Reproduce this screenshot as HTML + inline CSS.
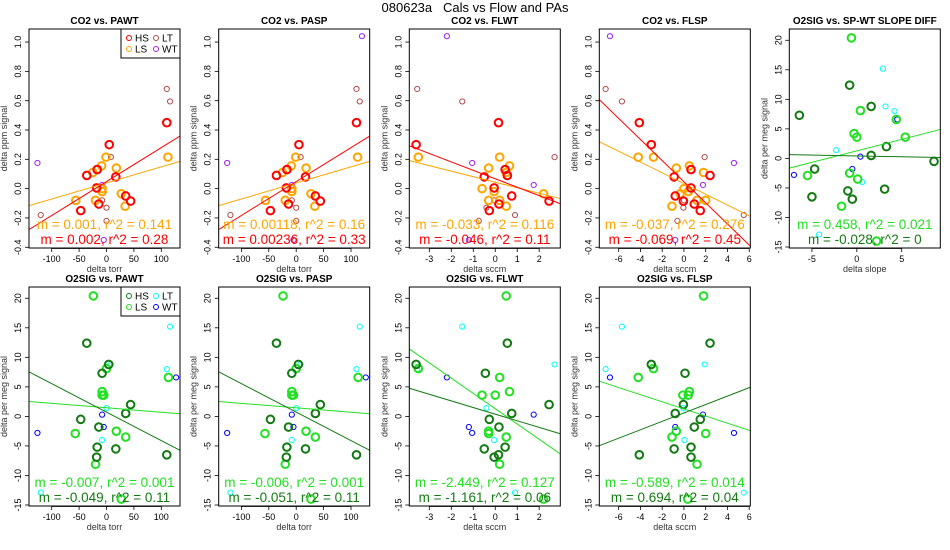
<!DOCTYPE html>
<html><head><meta charset="utf-8">
<style>
html,body{margin:0;padding:0;background:#fff;}
svg{display:block;font-family:"Liberation Sans",sans-serif;}
</style></head>
<body>
<svg id="chart" width="950" height="550" viewBox="0 0 950 550" xmlns="http://www.w3.org/2000/svg">
<rect width="950" height="550" fill="#fff"/>
<text x="475" y="12" text-anchor="middle" font-size="13" style="white-space:pre">080623a   Cals vs Flow and PAs</text>
</svg>
<script>
// ---------- CO2 data ----------
const co2HS_y   = [0.45,0.30,0.09,0.13,0.08,0.005,-0.05,-0.085,-0.105,-0.15];
const co2HS_torr= [110,5,-36,-17,17,-18,35,44,-14,-47];
const co2HS_flwt= [0.15,-3.6,0.55,0.45,-0.5,-0.05,0.75,2.45,0.17,-0.27];
const co2HS_flsp= [-4.1,-3.0,2.4,0.65,-0.9,0.65,-0.8,-0.05,0.95,1.5];
const co2LS_y   = [0.215,0.215,0.155,0.14,0.11,0.0,-0.02,-0.035,-0.08,-0.08,-0.12];
const co2LS_torr= [-1,112,-9,18,-25,-8,-8,27,-56,-20,34];
const co2LS_flwt= [-3.5,0.2,0.65,-0.3,0.5,-0.6,-0.05,2.2,-0.3,0.2,0.5];
const co2LS_flsp= [-4.2,-2.8,0.5,-0.7,1.8,0,0.4,-0.35,1.2,2.0,-1.1];
const co2LT_y   = [0.68,0.595,0.215,-0.08,-0.13,-0.18,-0.22];
const co2LT_torr= [110,116,8,-8,0,-120,0];
const co2LT_flwt= [-3.55,-1.5,2.7,-0.05,-0.4,0.9,-0.75];
const co2LT_flsp= [-7.2,-5.7,1.9,0,-0.05,5.5,-0.6];
const co2WT_y   = [1.04,0.175,0.025,-0.35];
const co2WT_torr= [150,-126,-8,-5];
const co2WT_pasp= [120,-126,-8,-5];
const co2WT_flwt= [-2.2,-1.05,1.75,-1.2];
const co2WT_flsp= [-6.8,4.6,1.75,-0.8];
// ---------- O2 data ----------
const o2HS_y    = [12.4,8.8,7.3,2.0,0.5,-0.5,-1.8,-5.2,-5.5,-6.5,-6.9];
const o2HS_torr = [-36,4,-8,44,35,-47,-14,-17,17,110,-18];
const o2HS_flwt = [0.55,-3.6,-0.45,2.45,0.75,-0.27,0.17,0.45,-0.5,0.15,-0.05];
const o2HS_flsp = [2.4,-3.0,0.1,-0.05,-0.8,1.5,0.95,0.65,-0.9,-4.1,0.65];
const o2HS_slope= [-0.8,1.6,-6.4,3.3,1.6,8.6,-4.7,3.1,-1.0,-5.0,-0.5];
const o2LS_y    = [20.4,8.1,6.6,4.2,3.6,3.6,-2.5,-2.9,-3.5,-8.1,-14];
const o2LS_torr = [-24,0,113,-8,-8,-5,18,-57,35,-20,27];
const o2LS_flwt = [0.5,-3.5,0.2,0.65,-0.6,0.0,-0.3,-0.3,0.5,0.2,2.2];
const o2LS_flsp = [1.8,-2.8,-4.2,0.5,0.4,-0.1,-0.7,2.0,-1.1,1.2,0.35];
const o2LS_slope= [-0.6,0.4,4.4,-0.3,0,5.4,-0.8,-5.5,0.1,-1.7,2.2];
const o2LT_y    = [15.2,8.8,8.0,1.4,-4.0,-12.9];
const o2LT_torr = [116,8,110,0,-8,-120];
const o2LT_flwt = [-1.5,2.7,-3.55,-0.4,-0.05,0.9];
const o2LT_flsp = [-5.7,1.9,-7.2,-0.05,0.05,5.5];
const o2LT_slope= [2.9,3.2,4.2,-2.3,0.6,-4.2];
const o2WT_y    = [6.6,0.3,-1.8,-2.8];
const o2WT_torr = [127,-8,-5,-126];
const o2WT_flwt = [-2.2,1.75,-1.2,-1.05];
const o2WT_flsp = [-6.8,1.75,-0.8,4.6];
const o2WT_slope= [4.5,0.4,-0.5,-7];
// ---------- tick labels ----------
const torrTicks = [-100,-50,0,50,100];
const flwtTicks = [-3,-2,-1,0,1,2];
const flspTicks = [-6,-4,-2,0,2,4,6];
const slopeTicks= [-5,0,5];
const co2Ticks  = [-0.4,-0.2,0.0,0.2,0.4,0.6,0.8,1.0];
const co2TickLabels = ["-0.4","-0.2","0.0","0.2","0.4","0.6","0.8","1.0"];
const o2Ticks   = [-15,-10,-5,0,5,10,15,20];
// ---------- printed stats ----------
const statsLS = ["m = 0.001, r^2 = 0.141","m = 0.00118, r^2 = 0.16","m = -0.033, r^2 = 0.116","m = -0.037, r^2 = 0.276","m = 0.458, r^2 = 0.021","m = -0.007, r^2 = 0.001","m = -0.006, r^2 = 0.001","m = -2.449, r^2 = 0.127","m = -0.589, r^2 = 0.014"];
const statsHS = ["m = 0.002, r^2 = 0.28","m = 0.00236, r^2 = 0.33","m = -0.046, r^2 = 0.11","m = -0.069, r^2 = 0.45","m = -0.028, r^2 = 0","m = -0.049, r^2 = 0.11","m = -0.051, r^2 = 0.11","m = -1.161, r^2 = 0.06","m = 0.694, r^2 = 0.04"];

const NS="http://www.w3.org/2000/svg";
const svg=document.getElementById('chart');
function mk(tag,attrs,parent){const e=document.createElementNS(NS,tag);for(const k in attrs)e.setAttribute(k,attrs[k]);(parent||svg).appendChild(e);return e;}

const C={HS:'#ff0000',LS:'#ffa500',LT:'#b04a4a',WT:'#a020f0'};
const O={HS:'#137a13',LS:'#22e022',LT:'#00ffff',WT:'#0000ff'};
const CO2DOM=[-0.405,1.089], O2DOM=[-15.17,21.91];
const TORR=[-141.4,134.1], FLWT=[-3.91,2.96], FLSP=[-7.78,6.10], SLOPE=[-7.52,9.30];

function fit(xs,ys){const n=xs.length;let mx=0,my=0;for(let i=0;i<n;i++){mx+=xs[i];my+=ys[i];}mx/=n;my/=n;let sxy=0,sxx=0;for(let i=0;i<n;i++){sxy+=(xs[i]-mx)*(ys[i]-my);sxx+=(xs[i]-mx)**2;}const m=sxy/sxx;return [m,my-m*mx];}

let pid=0;
function panel(p){
  pid++;
  const L=p.left,T=p.top,W=151,H=219;
  const sx=v=>L+(v-p.xd[0])/(p.xd[1]-p.xd[0])*W;
  const sy=v=>T+H-(v-p.yd[0])/(p.yd[1]-p.yd[0])*H;
  const g=mk('g',{});
  
  
  const cp=mk('clipPath',{id:'cp'+pid},g);mk('rect',{x:L,y:T,width:W,height:H},cp);
  const t=mk('text',{x:L+W/2,y:T-5,'text-anchor':'middle','font-size':10,'font-weight':'bold'},g);t.textContent=p.title;
  
  
  p.xt.forEach(v=>{const x=sx(v);mk('line',{x1:x,y1:T+H,x2:x,y2:T+H+4,stroke:'#000','stroke-width':0.8},g);
    const tl=mk('text',{x:x,y:T+H+14,'text-anchor':'middle','font-size':9},g);tl.textContent=v;
    
    });
  mk('line',{x1:sx(p.xt[0]),y1:T+H+0.5,x2:sx(p.xt[p.xt.length-1]),y2:T+H+0.5,stroke:'#000','stroke-width':0.8},g);
  p.yt.forEach((v,i)=>{const y=sy(v);mk('line',{x1:L-4,y1:y,x2:L,y2:y,stroke:'#000','stroke-width':0.8},g);
    const tl=mk('text',{x:L-8,y:y,'text-anchor':'middle','font-size':9,transform:`rotate(-90 ${L-8} ${y})`},g);tl.textContent=p.ytl?p.ytl[i]:v;
    
    });
  const xl=mk('text',{x:L+W/2,y:T+H+24,'text-anchor':'middle','font-size':9,fill:'#333'},g);xl.textContent=p.xl;
  
  
  const yx=L-22,yy=T+H/2;
  const yl=mk('text',{x:yx,y:yy,'text-anchor':'middle','font-size':9,fill:'#333',transform:`rotate(-90 ${yx} ${yy})`},g);yl.textContent=p.yl;
  
  
  const cg=mk('g',{'clip-path':`url(#cp${pid})`},g);
  ['LT','WT','LS','HS'].forEach(k=>{const s=p.s[k];if(!s)return;const thick=(k==='HS'||k==='LS');
    s.x.forEach((xv,i)=>{const c=mk('circle',{cx:sx(xv),cy:sy(s.y[i]),r:thick?3.8:2.6,fill:'none',stroke:p.col[k],'stroke-width':thick?2:1},cg);
      
      });});
  ['LS','HS'].forEach(k=>{const s=p.s[k];const [m,b]=fit(s.x,s.y);
    const ln=mk('line',{x1:sx(p.xd[0]),y1:sy(m*p.xd[0]+b),x2:sx(p.xd[1]),y2:sy(m*p.xd[1]+b),stroke:p.col[k],'stroke-width':1},cg);
    
    });
  const s1=mk('text',{x:L+W/2,y:T+H-19,'text-anchor':'middle','font-size':13.5,fill:p.col.LS},g);s1.textContent=p.st[0];
  
  
  const s2=mk('text',{x:L+W/2,y:T+H-4,'text-anchor':'middle','font-size':13.5,fill:p.col.HS},g);s2.textContent=p.st[1];
  
  
  mk('rect',{x:L,y:T,width:W,height:H,fill:'none',stroke:'#000','stroke-width':1},g);
  if(p.legend){
    const lg=mk('g',{},g);
    
    
    mk('rect',{x:L+W-59,y:T,width:59,height:29,fill:'#fff',stroke:'#000','stroke-width':1},lg);
    [['HS',0,0],['LT',1,0],['LS',0,1],['WT',1,1]].forEach(([k,c,r])=>{
      const cx=L+W-51+c*27, cy=T+9+r*11;
      mk('circle',{cx:cx,cy:cy,r:2.5,fill:'none',stroke:p.col[k],'stroke-width':1},lg);
      const lt=mk('text',{x:cx+6,y:cy+3.5,'font-size':10},lg);lt.textContent=k;
      
      });
  }
}
const cols=[29,218.7,409.3,599.3,789.3];
const co2=(hx,lx,tx,wx)=>({HS:{x:hx,y:co2HS_y},LS:{x:lx,y:co2LS_y},LT:{x:tx,y:co2LT_y},WT:{x:wx,y:co2WT_y}});
const o2=(hx,lx,tx,wx)=>({HS:{x:hx,y:o2HS_y},LS:{x:lx,y:o2LS_y},LT:{x:tx,y:o2LT_y},WT:{x:wx,y:o2WT_y}});
const co2yl='delta ppm signal', o2yl='delta per meg signal';
panel({name:'panel-co2-pawt',left:cols[0],top:29,title:'CO2 vs. PAWT',xd:TORR,yd:CO2DOM,xt:torrTicks,yt:co2Ticks,ytl:co2TickLabels,xl:'delta torr',yl:co2yl,col:C,st:[statsLS[0],statsHS[0]],legend:true,s:co2(co2HS_torr,co2LS_torr,co2LT_torr,co2WT_torr)});
panel({name:'panel-co2-pasp',left:cols[1],top:29,title:'CO2 vs. PASP',xd:TORR,yd:CO2DOM,xt:torrTicks,yt:co2Ticks,ytl:co2TickLabels,xl:'delta torr',yl:co2yl,col:C,st:[statsLS[1],statsHS[1]],s:co2(co2HS_torr,co2LS_torr,co2LT_torr,co2WT_pasp)});
panel({name:'panel-co2-flwt',left:cols[2],top:29,title:'CO2 vs. FLWT',xd:FLWT,yd:CO2DOM,xt:flwtTicks,yt:co2Ticks,ytl:co2TickLabels,xl:'delta sccm',yl:co2yl,col:C,st:[statsLS[2],statsHS[2]],s:co2(co2HS_flwt,co2LS_flwt,co2LT_flwt,co2WT_flwt)});
panel({name:'panel-co2-flsp',left:cols[3],top:29,title:'CO2 vs. FLSP',xd:FLSP,yd:CO2DOM,xt:flspTicks,yt:co2Ticks,ytl:co2TickLabels,xl:'delta sccm',yl:co2yl,col:C,st:[statsLS[3],statsHS[3]],s:co2(co2HS_flsp,co2LS_flsp,co2LT_flsp,co2WT_flsp)});
panel({name:'panel-o2-slope',left:cols[4],top:29,title:'O2SIG vs. SP-WT SLOPE DIFF',xd:SLOPE,yd:O2DOM,xt:slopeTicks,yt:o2Ticks,xl:'delta slope',yl:o2yl,col:O,st:[statsLS[4],statsHS[4]],s:o2(o2HS_slope,o2LS_slope,o2LT_slope,o2WT_slope)});
panel({name:'panel-o2-pawt',left:cols[0],top:287,title:'O2SIG vs. PAWT',xd:TORR,yd:O2DOM,xt:torrTicks,yt:o2Ticks,xl:'delta torr',yl:o2yl,col:O,st:[statsLS[5],statsHS[5]],legend:true,s:o2(o2HS_torr,o2LS_torr,o2LT_torr,o2WT_torr)});
panel({name:'panel-o2-pasp',left:cols[1],top:287,title:'O2SIG vs. PASP',xd:TORR,yd:O2DOM,xt:torrTicks,yt:o2Ticks,xl:'delta torr',yl:o2yl,col:O,st:[statsLS[6],statsHS[6]],s:o2(o2HS_torr,o2LS_torr,o2LT_torr,o2WT_torr)});
panel({name:'panel-o2-flwt',left:cols[2],top:287,title:'O2SIG vs. FLWT',xd:FLWT,yd:O2DOM,xt:flwtTicks,yt:o2Ticks,xl:'delta sccm',yl:o2yl,col:O,st:[statsLS[7],statsHS[7]],s:o2(o2HS_flwt,o2LS_flwt,o2LT_flwt,o2WT_flwt)});
panel({name:'panel-o2-flsp',left:cols[3],top:287,title:'O2SIG vs. FLSP',xd:FLSP,yd:O2DOM,xt:flspTicks,yt:o2Ticks,xl:'delta sccm',yl:o2yl,col:O,st:[statsLS[8],statsHS[8]],s:o2(o2HS_flsp,o2LS_flsp,o2LT_flsp,o2WT_flsp)});
</script>
</body></html>
